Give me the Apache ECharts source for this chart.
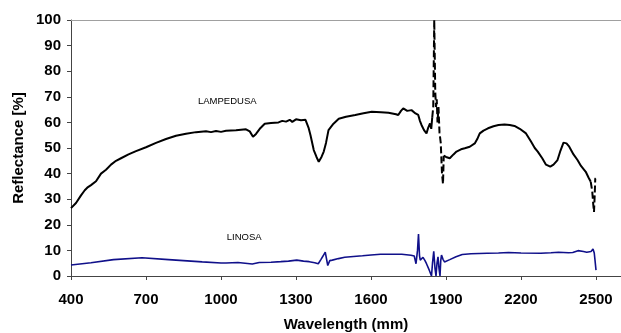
<!DOCTYPE html>
<html>
<head>
<meta charset="utf-8">
<script src="https://cdn.jsdelivr.net/npm/echarts@6/dist/echarts.min.js"></script>
<style>
html,body{margin:0;padding:0;background:#fff;}
#chart{width:621px;height:333px;}
</style>
</head>
<body>
<div id="chart"></div>
<script>
// ---- Data (wavelength, reflectance %) ----
const lampSolidA = [
  [400,26.5],[420,28.5],[440,31.5],[455,33.5],[465,34.5],[480,35.5],[500,37],[520,40],[540,41.5],[560,43.5],
  [580,45],[600,46],[630,47.5],[660,48.8],[700,50.3],[740,52],[780,53.5],[820,54.8],[860,55.6],
  [900,56.2],[940,56.5],[960,56.2],[980,56.6],[1000,56.3],[1020,56.7],[1060,56.9],[1100,57.3],[1115,56.5],[1128,54.4],
  [1140,55.5],[1155,57.5],[1175,59.5],[1200,59.8],[1230,60],[1245,60.6],[1260,60.3],[1275,61],[1285,60.2],[1300,61.2],
  [1320,60.8],[1338,61],[1350,58],[1358,55],[1371,49.2],[1382,46.5],[1391,44.6],[1402,46.5],
  [1411,48.6],[1420,52],[1430,57],[1438,57.7],[1450,59.5],[1471,61.4],[1500,62.2],[1537,62.9],
  [1570,63.6],[1603,64.2],[1640,64],[1670,63.8],[1700,63.2],[1709,62.9],[1720,64.5],[1729,65.5],
  [1745,64.5],[1762,64.8],[1778,63.5],[1789,62.9],[1796,60.5],[1802,59],[1812,57],[1822,55.7],
  [1829,58],[1836,59.6],[1841,57.5],[1845,62]
];
const lampDashA = [
  [1845,62],[1849,66],[1853,100],[1857,72],[1860,66],[1863,69],[1866,60],[1870,66],[1874,56],
  [1879,52],[1884,40],[1888,36],[1891,47]
];
const lampSolidB = [
  [1891,47],[1900,46.5],[1915,46],[1930,47.5],[1942,48.6],[1960,49.5],[1975,49.9],[1995,50.5],
  [2015,51.8],[2025,53.5],[2035,55.7],[2050,56.8],[2068,57.7],[2090,58.5],[2110,59],[2134,59.2],
  [2155,59],[2174,58.6],[2195,57.5],[2220,55.7],[2240,52.5],[2255,50],[2267,48.6],[2285,46],
  [2300,43.5],[2317,42.7],[2330,43.5],[2346,45.3],[2358,49],[2370,52.1],[2382,51.8],[2393,50.5],
  [2410,47.5],[2426,45.3],[2440,43],[2459,40.7],[2470,38.5],[2479,36.8]
];
const lampDashB = [
  [2479,36.8],[2485,33],[2489,28],[2492,25],[2495,32],[2497,38],[2499,38.2]
];
const linosa = [
  [400,4.3],[480,5.2],[570,6.4],[684,7.1],[790,6.4],[925,5.5],[1000,5.1],[1008,4.4],[1020,5.1],
  [1068,5.3],[1125,4.7],[1153,5.3],[1200,5.4],[1239,5.6],[1270,5.8],[1303,6.2],[1330,5.8],
  [1353,5.6],[1375,5.2],[1389,4.8],[1400,6.5],[1408,7.8],[1417,9.3],[1427,4.1],[1435,6],
  [1445,6.2],[1470,6.8],[1495,7.3],[1530,7.6],[1566,7.9],[1600,8.2],[1638,8.5],[1680,8.5],
  [1723,8.5],[1760,8.1],[1773,7.8],[1780,4.8],[1786,10],[1790,16.4],[1794,8],[1797,6.2],
  [1808,7.3],[1816,6],[1822,4.8],[1830,3],[1842,0],[1846,5],[1851,9.6],[1856,3],[1860,0],
  [1864,5],[1868,7.5],[1872,3],[1876,0],[1879,6],[1882,8.2],[1888,6.5],[1894,5.5],[1915,6.4],
  [1940,7.5],[1965,8.4],[2000,8.7],[2065,8.9],[2110,9],[2150,9.2],[2200,9],[2279,8.9],
  [2320,9.1],[2350,9.3],[2390,9.1],[2407,9.2],[2415,8.5],[2428,9.9],[2450,9.6],[2463,9.3],
  [2480,9.6],[2488,10.5],[2493,9],[2496,6.2],[2500,2.3]
];
const xTicks = [400,700,1000,1300,1600,1900,2200,2500];
const annoText = ['LAMPEDUSA','LINOSA'];
const annoX = [1025,1093];
const annoY = [68.4,15.2];

const FONT = '"Liberation Sans", Arial, sans-serif';
const chart = echarts.init(document.getElementById('chart'));

const lampStyle = {color:'#000', width:2};
const option = {
  animation:false,
  backgroundColor:'#fff',
  grid:{left:71, right:-3, top:20, bottom:57, containLabel:false},
  xAxis:[{
    type:'value', min:400, max:2600, interval:300, position:'bottom',
    axisLine:{show:true, lineStyle:{color:'#444', width:1}},
    axisTick:{show:true, length:4, inside:false, lineStyle:{color:'#444'}},
    splitLine:{show:false},
    axisLabel:{
      show:true, margin:16, color:'#000', fontSize:15, fontWeight:'bold', fontFamily:FONT,
      showMaxLabel:false,
      formatter:function(v){ return xTicks.indexOf(v) >= 0 ? String(v) : ''; }
    }
  },{
    type:'value', min:400, max:2600, position:'top',
    axisLine:{show:true, lineStyle:{color:'#a0a0a0', width:1}},
    axisTick:{show:false}, axisLabel:{show:false}, splitLine:{show:false}
  }],
  yAxis:{
    type:'value', min:0, max:100, interval:10,
    axisLine:{show:true, lineStyle:{color:'#444', width:1}},
    axisTick:{show:true, length:4, lineStyle:{color:'#444'}},
    splitLine:{show:false},
    axisLabel:{margin:10, color:'#000', fontSize:15, fontWeight:'bold', fontFamily:FONT}
  },
  series:[
    {type:'line', data:lampSolidA, showSymbol:false, lineStyle:lampStyle, z:3},
    {type:'line', data:lampDashA, showSymbol:false, lineStyle:{color:'#000', width:2, type:[7,3]}, z:3},
    {type:'line', data:lampSolidB, showSymbol:false, lineStyle:lampStyle, z:3},
    {type:'line', data:lampDashB, showSymbol:false, lineStyle:{color:'#000', width:2, type:[7,3]}, z:3},
    {type:'line', data:linosa, showSymbol:false, lineStyle:{color:'#10108a', width:1.6}, z:2}
  ]
};
chart.setOption(option);

const graphics = [];
for (let i = 0; i < annoText.length; i++) {
  const p = chart.convertToPixel({xAxisIndex:0, yAxisIndex:0}, [annoX[i], annoY[i]]);
  graphics.push({type:'text', x:p[0], y:p[1], style:{text:annoText[i], fill:'#000', font:'9.5px ' + FONT, textAlign:'center', textVerticalAlign:'middle'}});
}
graphics.push({type:'text', x:19, y:148, rotation:Math.PI/2,
  style:{text:'Reflectance [%]', fill:'#000', font:'bold 15px ' + FONT, textAlign:'center', textVerticalAlign:'middle'}});
graphics.push({type:'text', x:346, y:325,
  style:{text:'Wavelength (mm)', fill:'#000', font:'bold 15px ' + FONT, textAlign:'center', textVerticalAlign:'middle'}});
chart.setOption({graphic:graphics});
</script>
</body>
</html>
